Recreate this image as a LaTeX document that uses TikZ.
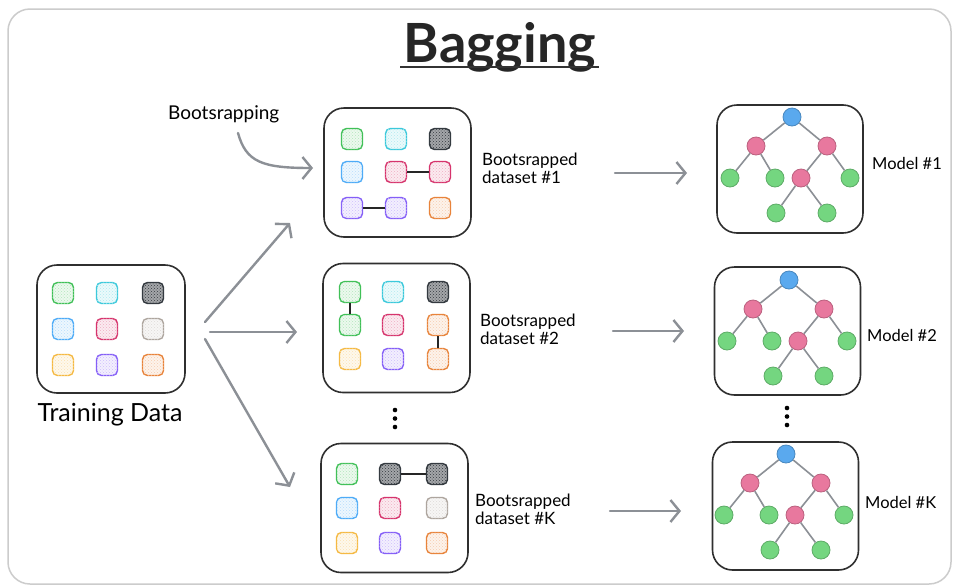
\documentclass[tikz,border=0pt]{standalone}
\usepackage{fontspec}
\setmainfont{Lato}
\usetikzlibrary{arrows.meta,patterns}

\definecolor{cgreen}{HTML}{40C057}
\definecolor{ccyan}{HTML}{3BC9DB}
\definecolor{cdark}{HTML}{343A40}
\definecolor{cblue}{HTML}{4DABF7}
\definecolor{cpink}{HTML}{D6336C}
\definecolor{cgray}{HTML}{ADA59E}
\definecolor{cyellow}{HTML}{F5B942}
\definecolor{cpurple}{HTML}{845EF7}
\definecolor{corange}{HTML}{E8833A}
\definecolor{arrowgray}{HTML}{8C9096}
\definecolor{boxline}{HTML}{2F2F2F}
\definecolor{tblue}{HTML}{5AA9EE}
\definecolor{tpink}{HTML}{E8789E}
\definecolor{tgreen}{HTML}{74D680}

\tikzset{
  sq/.style={draw=#1, fill=#1!10, postaction={pattern=crosshatch dots, pattern color=#1!40},
    minimum size=21pt, inner sep=0pt, rounded corners=5pt, line width=1.4pt},
  dsq/.style={draw=cdark, fill=cdark!45, postaction={pattern=crosshatch dots, pattern color=cdark},
    minimum size=21pt, inner sep=0pt, rounded corners=5pt, line width=1.4pt},
  framebox/.style={draw=boxline, line width=1.6pt, rounded corners=20pt,
    minimum width=147pt, minimum height=129pt, inner sep=0pt},
  link/.style={draw=black!85, line width=1.4pt},
  arr/.style={draw=arrowgray, line width=2.4pt, line cap=round,
    -{Straight Barb[length=9pt,width=22pt]}},
  tn/.style={circle, fill=#1, draw=#1!80!black, line width=0.8pt, minimum size=18pt, inner sep=0pt},
  te/.style={draw=arrowgray, line width=1.6pt},
  lbl/.style={font=\fontsize{17}{18}\selectfont, align=left, anchor=west, inner sep=0pt},
  mlbl/.style={font=\fontsize{16.5}{18}\selectfont, anchor=west, inner sep=0pt},
  dotnode/.style={circle, fill=black, minimum size=4.6pt, inner sep=0pt},
  tree/.pic={
    \node[tn=tblue]  (-a) at (0,0) {};
    \node[tn=tpink]  (-b) at (-36,29) {};
    \node[tn=tpink]  (-c) at (35,29) {};
    \node[tn=tgreen] (-d) at (-62,61) {};
    \node[tn=tgreen] (-e) at (-17,61) {};
    \node[tn=tpink]  (-f) at (9,61) {};
    \node[tn=tgreen] (-g) at (58,61) {};
    \node[tn=tgreen] (-h) at (-16,96) {};
    \node[tn=tgreen] (-i) at (35,96) {};
    \draw[te] (-a) -- (-b);
    \draw[te] (-a) -- (-c);
    \draw[te] (-b) -- (-d);
    \draw[te] (-b) -- (-e);
    \draw[te] (-c) -- (-f);
    \draw[te] (-c) -- (-g);
    \draw[te] (-f) -- (-h);
    \draw[te] (-f) -- (-i);
  }
}

\begin{document}
\begin{tikzpicture}[x=1pt,y=-1pt]
\useasboundingbox (0,0) rectangle (955,587);
\fill[white] (0,0) rectangle (955,587);
\draw[draw=gray!40, line width=1.5pt, rounded corners=22pt] (8,9) rectangle (951,584);

% title
\node[font=\fontsize{54}{54}\selectfont\bfseries, text=black!85, inner sep=0pt, anchor=base] (title) at (500,62) {Bagging};
\coordinate (ul1) at (400,67);
\coordinate (ul2) at (599,67);
\draw[black!80, line width=2.4pt] (ul1) -- (ul2);

% boxes
\node[framebox, minimum width=148pt, minimum height=128pt] (train) at (111,329) {};
\node[framebox] (d1) at (397.5,172.5) {};
\node[framebox] (d2) at (396.5,328) {};
\node[framebox] (dk) at (394.5,508) {};
\node[framebox, minimum width=146pt, minimum height=128pt] (m1) at (790,169) {};
\node[framebox, minimum width=146pt, minimum height=128pt] (m2) at (787.5,331) {};
\node[framebox, minimum width=146pt, minimum height=128pt] (mk) at (785.5,506) {};

% training data squares
\node[sq=cgreen]  (t11) at (63,293) {};
\node[sq=ccyan]   (t12) at (107,293) {};
\node[dsq]        (t13) at (153,293) {};
\node[sq=cblue]   (t21) at (63,329) {};
\node[sq=cpink]   (t22) at (107,329) {};
\node[sq=cgray]   (t23) at (153,329) {};
\node[sq=cyellow] (t31) at (63,365) {};
\node[sq=cpurple] (t32) at (107,365) {};
\node[sq=corange] (t33) at (153,365) {};

% dataset 1
\node[sq=cgreen]  (a11) at (352,139) {};
\node[sq=ccyan]   (a12) at (396,139) {};
\node[dsq]        (a13) at (440,139) {};
\node[sq=cblue]   (a21) at (352,172) {};
\node[sq=cpink]   (a22) at (396,172) {};
\node[sq=cpink]   (a23) at (440,172) {};
\node[sq=cpurple] (a31) at (352,208) {};
\node[sq=cpurple] (a32) at (396,208) {};
\node[sq=corange] (a33) at (440,208) {};
\draw[link] (a22) -- (a23);
\draw[link] (a31) -- (a32);

% dataset 2
\node[sq=cgreen]  (b11) at (350,292) {};
\node[sq=ccyan]   (b12) at (393,292) {};
\node[dsq]        (b13) at (438,292) {};
\node[sq=cgreen]  (b21) at (350,325) {};
\node[sq=cpink]   (b22) at (393,325) {};
\node[sq=corange] (b23) at (438,325) {};
\node[sq=cyellow] (b31) at (350,359) {};
\node[sq=cpurple] (b32) at (393,359) {};
\node[sq=corange] (b33) at (438,359) {};
\draw[link] (b11) -- (b21);
\draw[link] (b23) -- (b33);

% dataset K
\node[sq=cgreen]  (k11) at (347,474) {};
\node[dsq]        (k12) at (390,474) {};
\node[dsq]        (k13) at (437,474) {};
\node[sq=cblue]   (k21) at (347,508) {};
\node[sq=cpink]   (k22) at (390,508) {};
\node[sq=cgray]   (k23) at (437,508) {};
\node[sq=cyellow] (k31) at (347,543) {};
\node[sq=cpurple] (k32) at (390,543) {};
\node[sq=corange] (k33) at (437,543) {};
\draw[link] (k12) -- (k13);

% trees
\pic (t1) at (792,117) {tree};
\pic (t2) at (789,280) {tree};
\pic (tk) at (786,454) {tree};

% labels
\node[font=\fontsize{25}{28}\selectfont, inner sep=0pt] (trainlbl) at (110,415) {Training Data};
\node[lbl, font=\fontsize{19}{20}\selectfont] (bslbl) at (168,114) {Bootsrapping};
\node[lbl] (l1) at (482,168) {Bootsrapped\\dataset \#1};
\node[lbl] (l2) at (480,329) {Bootsrapped\\dataset \#2};
\node[lbl] (lk) at (475,509) {Bootsrapped\\dataset \#K};
\node[mlbl] (ml1) at (872,163) {Model \#1};
\node[mlbl] (ml2) at (867,335) {Model \#2};
\node[mlbl] (mlk) at (865,502) {Model \#K};

% dots
\node[dotnode] (ld1) at (395,410) {};
\node[dotnode] (ld2) at (395,418.5) {};
\node[dotnode] (ld3) at (395,427) {};
\node[dotnode] (rd1) at (787,408) {};
\node[dotnode] (rd2) at (787,416.5) {};
\node[dotnode] (rd3) at (787,425) {};

% arrows
\coordinate (s1) at (205,322);
\coordinate (e1) at (290,223);
\coordinate (s2) at (210,332);
\coordinate (e2) at (297,332);
\coordinate (s3) at (205,339);
\coordinate (e3) at (290,487);
\draw[arr] (s1) -- (e1);
\draw[arr] (s2) -- (e2);
\draw[arr] (s3) -- (e3);

\coordinate (bs0) at (238,133);
\coordinate (bs1) at (313,168);
\draw[arr] (bs0) .. controls (246,162) and (262,168) .. (bs1);

\coordinate (p1) at (615,173);
\coordinate (q1) at (687,173);
\coordinate (p2) at (613,331);
\coordinate (q2) at (684,331);
\coordinate (p3) at (610,511);
\coordinate (q3) at (681,511);
\draw[arr] (p1) -- (q1);
\draw[arr] (p2) -- (q2);
\draw[arr] (p3) -- (q3);
\end{tikzpicture}
\end{document}
